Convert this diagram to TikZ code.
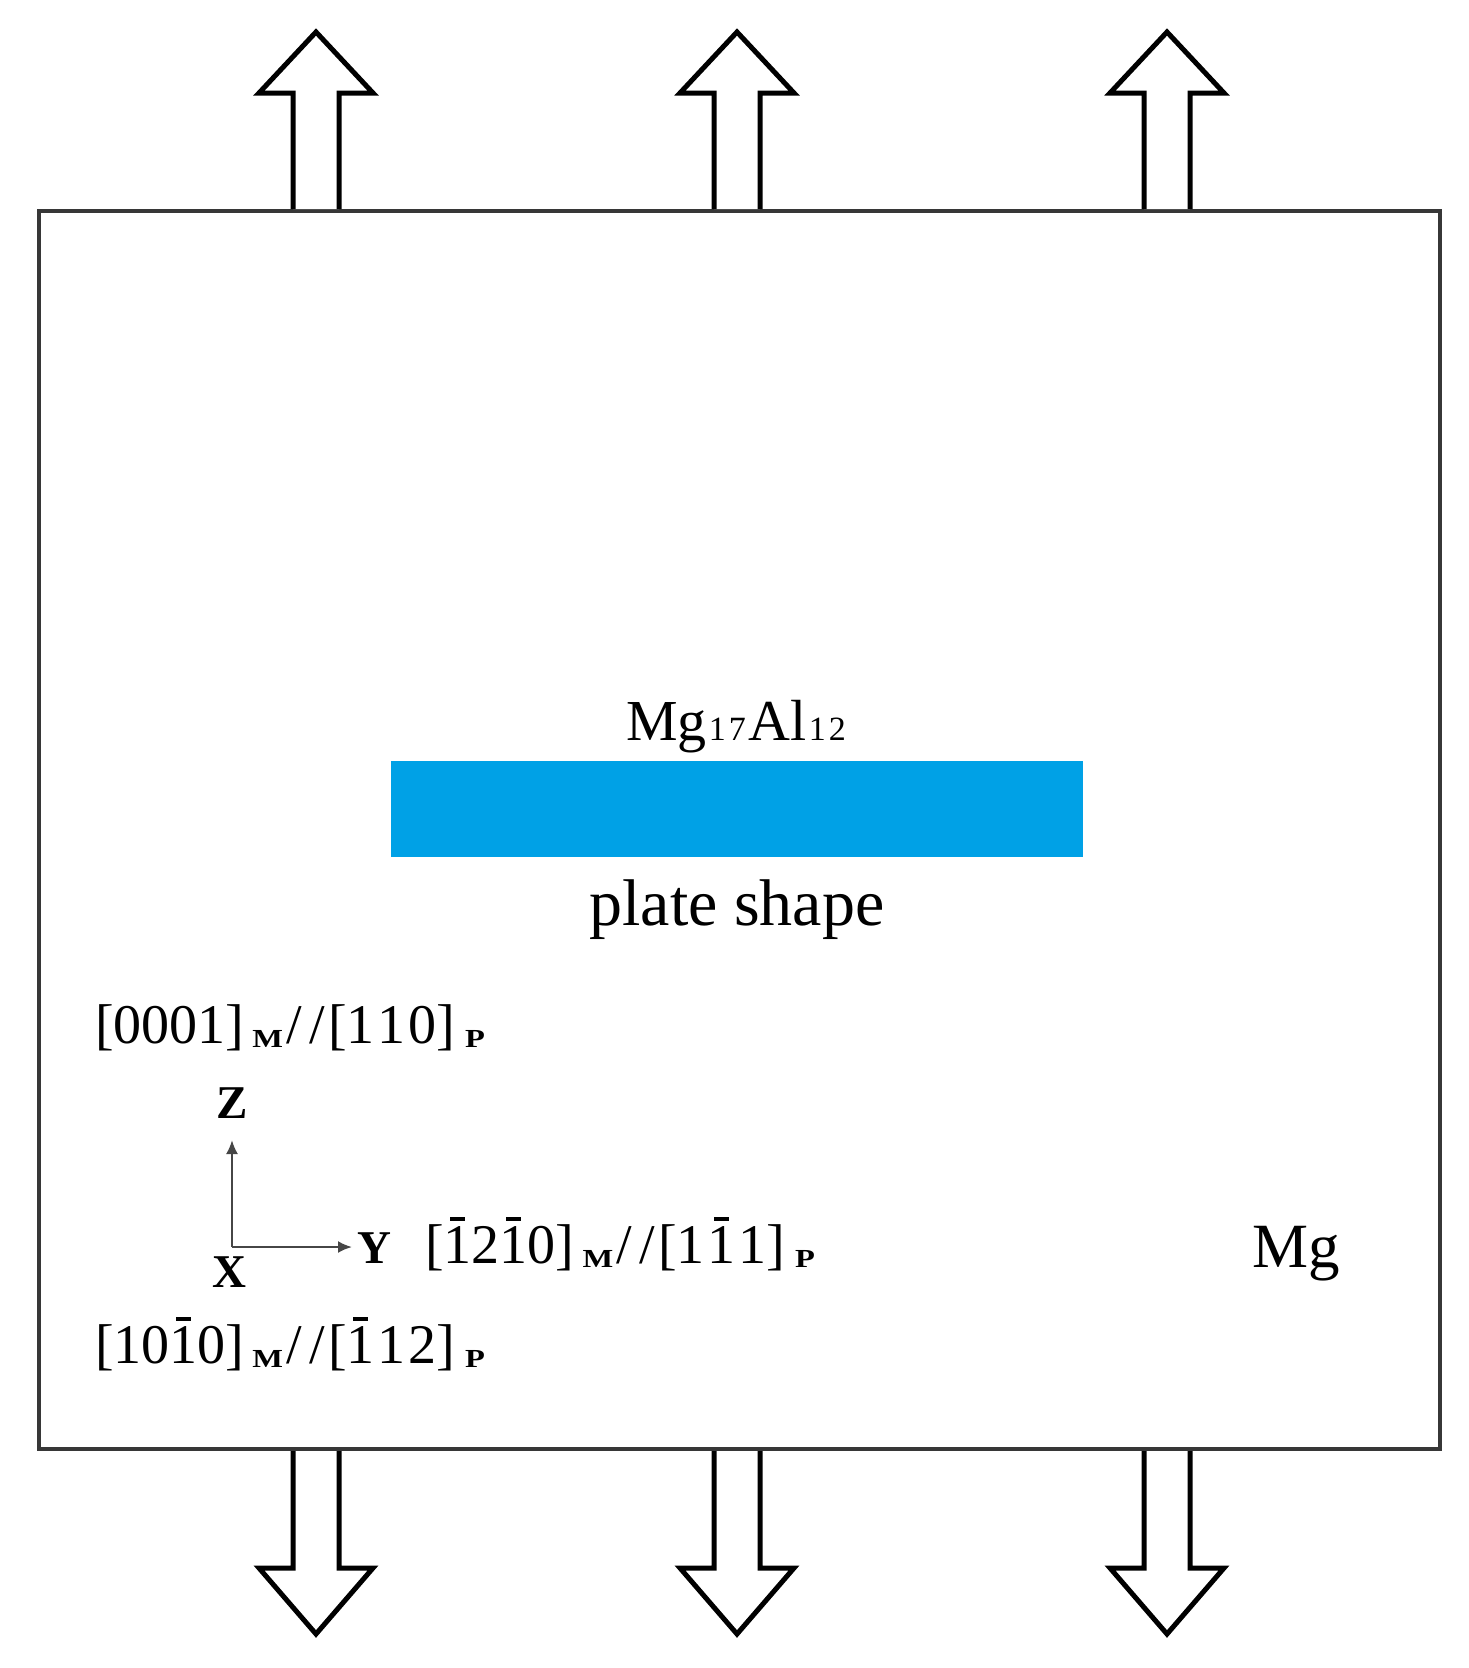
\documentclass[tikz,border=0pt]{standalone}
\usepackage{fontspec}
\usepackage{graphicx}
\setmainfont{Liberation Serif}
\usetikzlibrary{arrows.meta}
\definecolor{plateblue}{RGB}{0,161,230}
\definecolor{framegray}{RGB}{55,55,55}
\definecolor{axisgray}{RGB}{70,70,70}
\newcommand{\bardigit}[1]{\ooalign{#1\cr\hidewidth\rule[0.75em]{0.27em}{0.075em}\hidewidth\cr}}
\newcommand{\idxsub}[1]{\raisebox{-4pt}{\fontsize{26}{26}\selectfont\bfseries\scalebox{1.25}[1]{#1}}}
\newcommand{\dk}{\kern0.05em}
\newcommand{\para}{\kern3pt/\kern8pt/\kern3pt}
\tikzset{
  framebox/.style={draw=framegray, line width=3.5pt},
  loadarrow/.style={draw=black, line width=5pt, miter limit=10, line join=miter, fill=white},
  idxtext/.style={inner sep=0pt, anchor=base west, font=\fontsize{56}{60}\selectfont},
  axislabel/.style={inner sep=0pt, anchor=base, font=\fontsize{47}{50}\selectfont\bfseries},
  axisline/.style={draw=axisgray, line width=2.2pt, -{Latex[length=14pt,width=12pt]}},
}
\begin{document}
\begin{tikzpicture}[x=1pt,y=-1pt]
\useasboundingbox (0,0) rectangle (1469,1668);
% frame
\draw[framebox] (39,211) rectangle (1440,1449);
% load arrows top and bottom
\foreach \c in {316,737,1167}{
  \draw[loadarrow] (\c-23,209) -- (\c-23,93) -- (\c-57,93) -- (\c,32) -- (\c+57,93) -- (\c+23,93) -- (\c+23,209);
  \draw[loadarrow] (\c-23,1451) -- (\c-23,1568) -- (\c-57,1568) -- (\c,1634) -- (\c+57,1568) -- (\c+23,1568) -- (\c+23,1451);
}
% precipitate plate
\fill[plateblue] (391,761) rectangle (1083,857);
\node[inner sep=0pt, anchor=base, font=\fontsize{58}{60}\selectfont] (ptitle) at (736,740)
  {Mg{\fontsize{34}{34}\selectfont\kern2pt 1\kern3pt 7\kern3pt}Al{\fontsize{34}{34}\selectfont\kern2pt 1\kern3pt 2}};
\node[inner sep=0pt, anchor=base, font=\fontsize{66}{70}\selectfont] (pshape) at (737,925) {plate shape};
% orientation relations
\node[idxtext] (l1) at (95,1043) {[0001]\kern8pt\idxsub{M}\para[1\dk 1\dk 0]\kern10pt\idxsub{P}};
\node[idxtext] (l2) at (425,1263) {[\bardigit{1}2\bardigit{1}0]\kern8pt\idxsub{M}\para[1\dk\bardigit{1}\dk 1]\kern10pt\idxsub{P}};
\node[idxtext] (l3) at (95,1363) {[10\bardigit{1}0]\kern8pt\idxsub{M}\para[\bardigit{1}\dk 1\dk 2]\kern10pt\idxsub{P}};
% axes
\coordinate (o) at (232,1247);
\coordinate (zt) at (232,1140);
\coordinate (yt) at (352,1247);
\draw[axisline] (o) -- (zt);
\draw[axisline] (o) -- (yt);
\node[axislabel] (zl) at (232,1118) {Z};
\node[axislabel] (yl) at (374,1263) {Y};
\node[axislabel] (xl) at (229,1287) {X};
% matrix label
\node[inner sep=0pt, anchor=base west, font=\fontsize{63}{66}\selectfont] (mg) at (1252,1267) {Mg};
\end{tikzpicture}
\end{document}
